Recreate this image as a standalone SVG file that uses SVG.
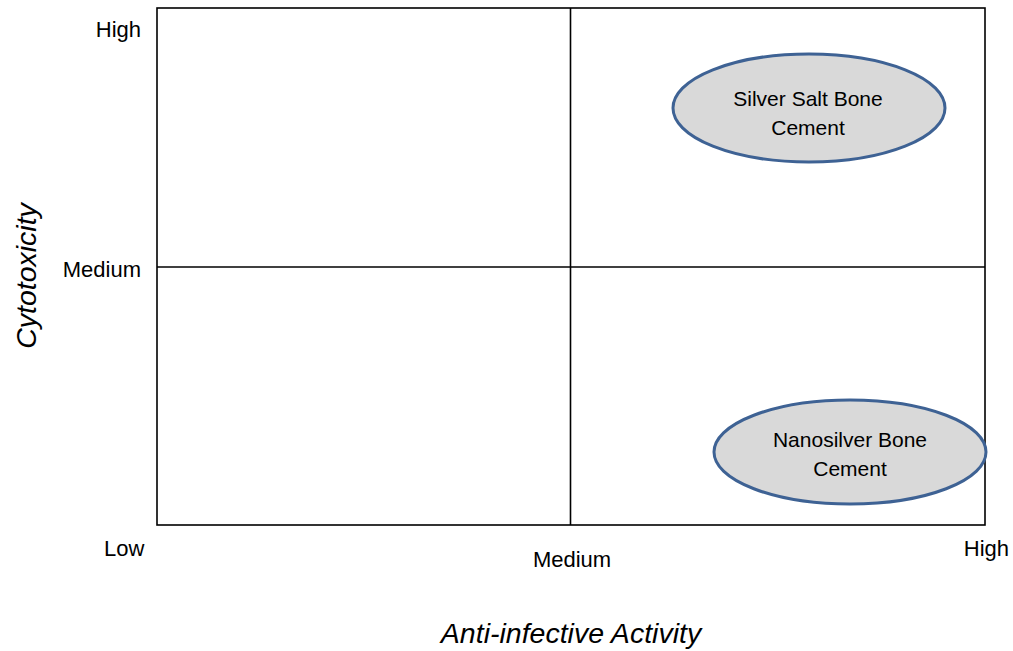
<svg xmlns="http://www.w3.org/2000/svg" width="1013" height="651" viewBox="0 0 1013 651">
  <style>
    .lbl { font-family: "Liberation Sans", Arial, sans-serif; font-size: 22px; fill: #000; }
    .node-text { font-family: "Liberation Sans", Arial, sans-serif; font-size: 21px; fill: #000; text-anchor: middle; }
    .axis-title { font-family: "Liberation Sans", Arial, sans-serif; font-size: 28.5px; font-style: italic; fill: #000; text-anchor: middle; }
    .grid { stroke: #000; stroke-width: 1.6; fill: none; }
    .ell { fill: #D9D9D9; stroke: #3E6294; stroke-width: 3; }
  </style>
  <rect width="1013" height="651" fill="#fff"/>
  <g id="connectors">
    <rect class="grid" x="157" y="8" width="828" height="517"/>
    <line class="grid" x1="570.5" y1="8" x2="570.5" y2="525"/>
    <line class="grid" x1="157" y1="267" x2="985" y2="267"/>
  </g>
  <g id="axis-labels">
    <text class="lbl" x="141" y="37" text-anchor="end">High</text>
    <text class="lbl" x="141" y="277" text-anchor="end">Medium</text>
    <text class="lbl" x="104" y="556">Low</text>
    <text class="lbl" x="572" y="567" text-anchor="middle">Medium</text>
    <text class="lbl" x="1009" y="556" text-anchor="end">High</text>
    <text class="axis-title" x="571" y="643">Anti-infective Activity</text>
    <text class="axis-title" transform="translate(36 276) rotate(-90)" x="0" y="0">Cytotoxicity</text>
  </g>
  <g id="silver-salt">
    <ellipse class="ell" cx="809" cy="108" rx="136" ry="54"/>
    <text class="node-text" x="808" y="106">Silver Salt Bone</text>
    <text class="node-text" x="808" y="135">Cement</text>
  </g>
  <g id="nanosilver">
    <ellipse class="ell" cx="850" cy="452" rx="136" ry="52"/>
    <text class="node-text" x="850" y="447">Nanosilver Bone</text>
    <text class="node-text" x="850" y="476">Cement</text>
  </g>
</svg>
